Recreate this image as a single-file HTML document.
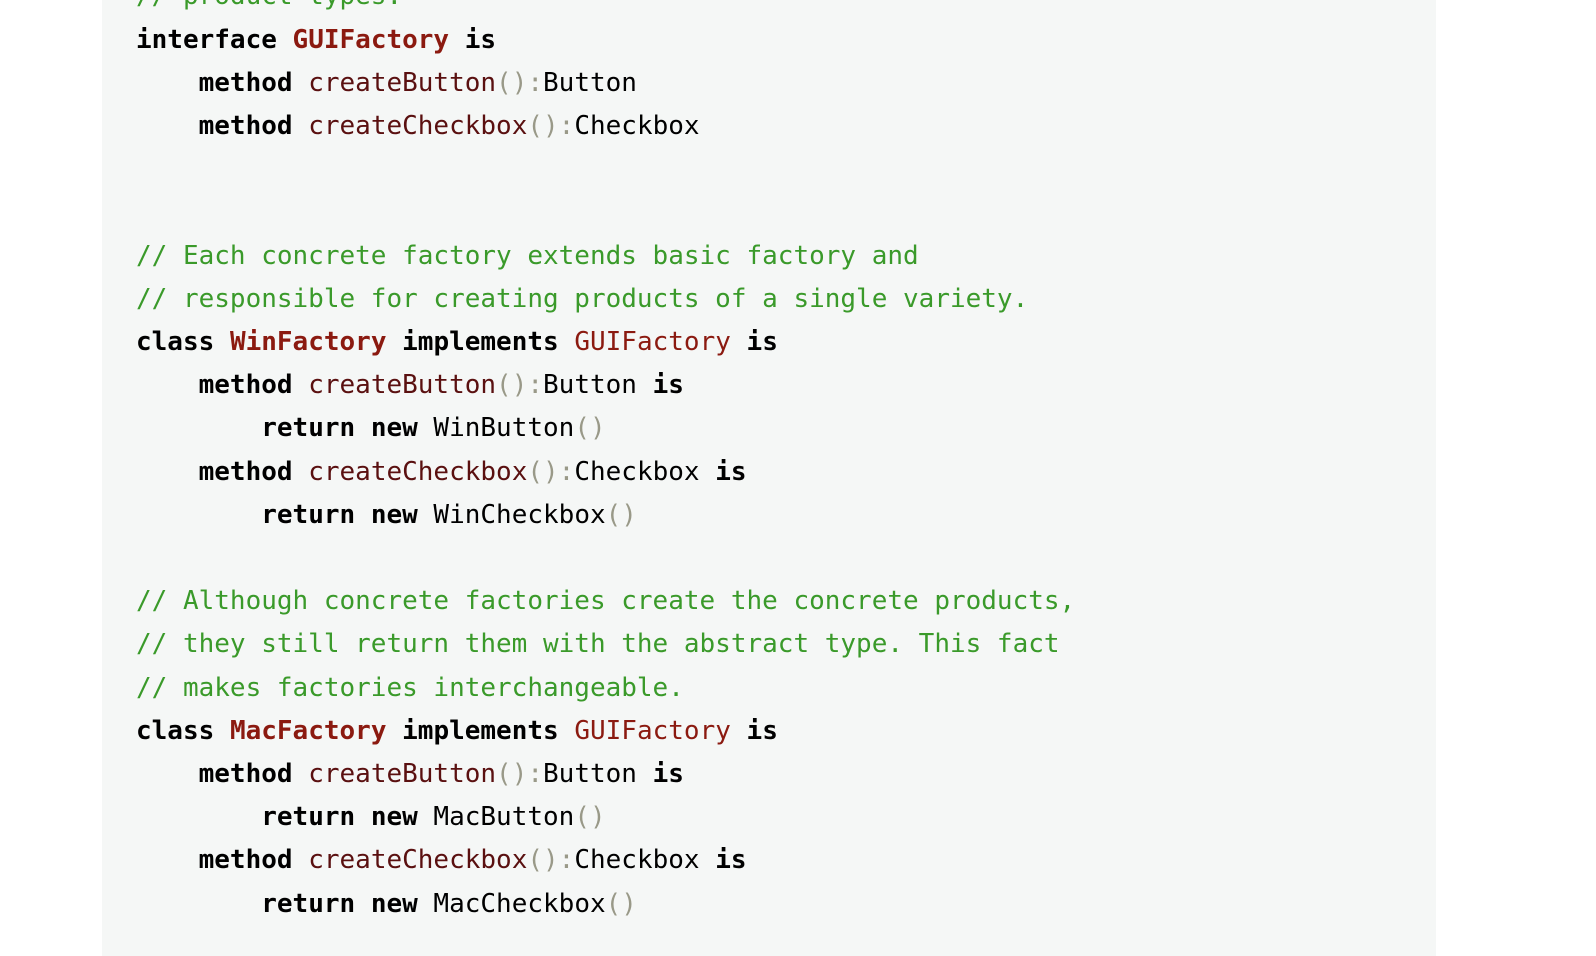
<!DOCTYPE html>
<html><head><meta charset="utf-8"><style>
html,body{margin:0;padding:0;background:#fff;width:1596px;height:956px;overflow:hidden}
.blk{position:absolute;left:102px;top:0;width:1334px;height:956px;background:#f5f7f6}
pre{position:absolute;left:136px;top:-24.6px;margin:0;font-family:"DejaVu Sans Mono","Liberation Mono",monospace;font-size:26px;line-height:43.2px;color:#000}
.k{font-weight:bold}
.c{color:#3a9a2a}
.t{color:#8b1a10;font-weight:bold}
.n{color:#8b1a10}
.m{color:#5a1010}
.p{color:#999988}
</style></head><body>
<div class="blk"></div>
<pre><span class="c">// product types.</span>
<span class="k">interface</span> <span class="t">GUIFactory</span> <span class="k">is</span>
    <span class="k">method</span> <span class="m">createButton</span><span class="p">():</span>Button
    <span class="k">method</span> <span class="m">createCheckbox</span><span class="p">():</span>Checkbox


<span class="c">// Each concrete factory extends basic factory and</span>
<span class="c">// responsible for creating products of a single variety.</span>
<span class="k">class</span> <span class="t">WinFactory</span> <span class="k">implements</span> <span class="n">GUIFactory</span> <span class="k">is</span>
    <span class="k">method</span> <span class="m">createButton</span><span class="p">():</span>Button <span class="k">is</span>
        <span class="k">return</span> <span class="k">new</span> WinButton<span class="p">()</span>
    <span class="k">method</span> <span class="m">createCheckbox</span><span class="p">():</span>Checkbox <span class="k">is</span>
        <span class="k">return</span> <span class="k">new</span> WinCheckbox<span class="p">()</span>

<span class="c">// Although concrete factories create the concrete products,</span>
<span class="c">// they still return them with the abstract type. This fact</span>
<span class="c">// makes factories interchangeable.</span>
<span class="k">class</span> <span class="t">MacFactory</span> <span class="k">implements</span> <span class="n">GUIFactory</span> <span class="k">is</span>
    <span class="k">method</span> <span class="m">createButton</span><span class="p">():</span>Button <span class="k">is</span>
        <span class="k">return</span> <span class="k">new</span> MacButton<span class="p">()</span>
    <span class="k">method</span> <span class="m">createCheckbox</span><span class="p">():</span>Checkbox <span class="k">is</span>
        <span class="k">return</span> <span class="k">new</span> MacCheckbox<span class="p">()</span>
</pre>
</body></html>
